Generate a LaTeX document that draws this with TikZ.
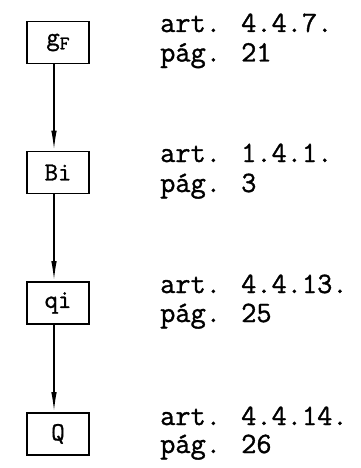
\documentclass[tikz,border=0pt]{standalone}
\usepackage{fontspec}
\usetikzlibrary{arrows.meta}
\newfontfamily\twf{Latin Modern Mono}[FakeBold=1.2]
\begin{document}
\begin{tikzpicture}[x=1pt,y=-1pt,
  blk/.style={draw,line width=1.8pt,minimum width=62pt,minimum height=42pt,inner sep=0pt,
    font=\fontsize{26}{26}\twf},
  lbl/.style={anchor=base west,inner sep=0pt,font=\fontsize{29.5}{29.5}\twf},
  conn/.style={line width=1.6pt,-{Latex[length=20pt,width=5.5pt]}}]
\useasboundingbox (0,0) rectangle (361,468);
\node[blk] (gF) at (58,42.5) {g\raisebox{-4pt}{\fontsize{19}{19}\selectfont F}};
\node[blk] (Bi) at (58,172.5) {Bi};
\node[blk] (qi) at (58,303) {qi};
\node[blk] (Q) at (58,434) {Q};
\draw[conn] ([xshift=-4pt]gF.south) -- ([xshift=-4pt]Bi.north);
\draw[conn] ([xshift=-4pt]Bi.south) -- ([xshift=-4pt]qi.north);
\draw[conn] ([xshift=-4pt]qi.south) -- ([xshift=-4pt]Q.north);
\node[lbl] (a1) at (160,32) {art. 4.4.7.};
\node[lbl] (p1) at (160,61.5) {pág. 21};
\node[lbl] (a2) at (160,162) {art. 1.4.1.};
\node[lbl] (p2) at (160,192) {pág. 3};
\node[lbl] (a3) at (160,293) {art. 4.4.13.};
\node[lbl] (p3) at (160,322) {pág. 25};
\node[lbl] (a4) at (160,425) {art. 4.4.14.};
\node[lbl] (p4) at (160,453) {pág. 26};
\end{tikzpicture}
\end{document}
